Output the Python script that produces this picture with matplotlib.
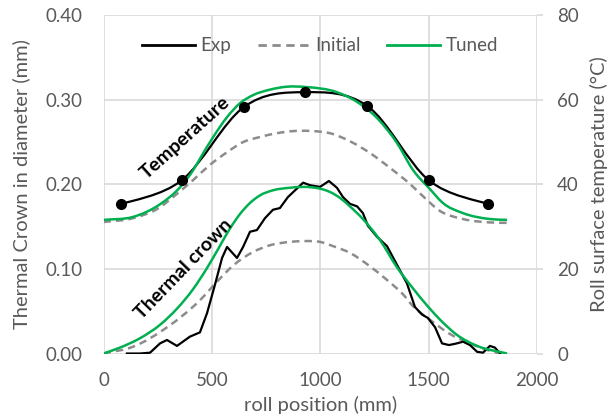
"""
Thermal crown and roll surface temperature vs roll position.
Exp / Initial / Tuned, crown on the left axis, temperature on the right.
Output: out.png
"""

import numpy as np
import matplotlib
matplotlib.use("Agg")
import matplotlib.pyplot as plt
from matplotlib.path import Path
from matplotlib.patches import PathPatch
from matplotlib.lines import Line2D

# ── data ──────────────────────────────────────────────────────────────────────
# measured temperature (°C)
temp_exp_x = [81, 362, 648, 928, 1218, 1500, 1776]
temp_exp_y = [35.3, 41.0, 58.3, 61.8, 58.5, 41.0, 35.3]

# model temperature (°C)
temp_init_x = [0, 136, 261, 321, 413, 491, 570, 644, 722, 800, 874, 967,
               1045, 1137, 1230, 1322, 1414, 1474, 1553, 1659, 1783, 1862]
temp_init_y = [31.1, 32.0, 34.6, 37.0, 41.0, 44.6, 47.6, 50.0, 51.2, 52.1,
               52.6, 52.6, 52.1, 50.2, 47.4, 43.9, 40.1, 37.2, 33.7, 31.8,
               31.0, 30.9]

temp_tuned_x = [0, 136, 261, 353, 413, 459, 505, 570, 630, 690, 768, 847,
                939, 1077, 1170, 1262, 1354, 1428, 1506, 1566, 1659, 1783, 1862]
temp_tuned_y = [31.6, 32.3, 35.3, 39.3, 43.3, 47.3, 51.1, 55.9, 59.2, 61.1,
                62.4, 63.1, 63.0, 61.8, 59.5, 55.7, 49.8, 43.4, 38.9, 35.6,
                33.2, 31.8, 31.6]

# measured thermal crown (mm)
crown_exp_x = [108, 168, 215, 261, 293, 339, 399, 445, 478, 515, 547, 570,
               616, 644, 676, 708, 745, 782, 814, 851, 884, 921, 953, 999,
               1040, 1077, 1105, 1137, 1170, 1197, 1220, 1262, 1308, 1354,
               1400, 1437, 1470, 1497, 1530, 1562, 1594, 1631, 1659, 1691,
               1724, 1751, 1783, 1806, 1830]
crown_exp_y = [0.000, 0.000, 0.001, 0.012, 0.016, 0.009, 0.020, 0.025, 0.048,
               0.082, 0.113, 0.126, 0.113, 0.126, 0.144, 0.146, 0.160, 0.170,
               0.172, 0.185, 0.193, 0.202, 0.199, 0.197, 0.204, 0.196, 0.185,
               0.177, 0.174, 0.166, 0.151, 0.138, 0.127, 0.105, 0.083, 0.055,
               0.046, 0.042, 0.031, 0.012, 0.010, 0.012, 0.014, 0.010, 0.002,
               0.001, 0.009, 0.007, 0.000]

# model thermal crown (mm)
crown_init_x = [0, 136, 293, 445, 524, 598, 690, 768, 861, 935, 999, 1059,
                1137, 1230, 1308, 1382, 1428, 1506, 1599, 1691, 1760, 1830]
crown_init_y = [0.000, 0.008, 0.031, 0.063, 0.085, 0.104, 0.120, 0.128, 0.132,
                0.133, 0.132, 0.127, 0.119, 0.103, 0.087, 0.070, 0.056, 0.040,
                0.023, 0.012, 0.005, 0.000]

crown_tuned_x = [0, 76, 168, 261, 339, 413, 475, 530, 584, 630, 676, 722, 782,
                 861, 921, 1013, 1045, 1091, 1137, 1197, 1276, 1354, 1428,
                 1506, 1553, 1631, 1724, 1862]
crown_tuned_y = [0.000, 0.007, 0.018, 0.034, 0.053, 0.076, 0.100, 0.124, 0.148,
                 0.165, 0.178, 0.187, 0.193, 0.196, 0.197, 0.194, 0.191, 0.184,
                 0.174, 0.159, 0.134, 0.102, 0.077, 0.053, 0.040, 0.022, 0.009,
                 0.000]

x_ticks = [0, 500, 1000, 1500, 2000]
crown_ticks = [0.00, 0.10, 0.20, 0.30, 0.40]
temp_ticks = [0, 20, 40, 60, 80]

BLACK = "black"
GREY = "#8c8c8c"
GREEN = "#00b050"
TXT = "#595959"
GRID = "#d9d9d9"
DASH = (0, (3, 2))


def catmull_path(x, y):
    """Excel-style smoothed line through a few points."""
    pts = np.column_stack([x, y]).astype(float)
    n = len(pts)
    verts, codes = [pts[0]], [Path.MOVETO]
    for i in range(n - 1):
        p0, p1 = pts[max(i - 1, 0)], pts[i]
        p2, p3 = pts[i + 1], pts[min(i + 2, n - 1)]
        verts += [p1 + (p2 - p0) / 6, p2 - (p3 - p1) / 6, p2]
        codes += [Path.CURVE4] * 3
    return Path(verts, codes)


def hermite_path(x, y):
    """Smooth line through x-monotone points (tangents from neighbours)."""
    x = np.asarray(x, float)
    y = np.asarray(y, float)
    m = np.gradient(y, x)
    verts, codes = [(x[0], y[0])], [Path.MOVETO]
    for i in range(len(x) - 1):
        h = (x[i + 1] - x[i]) / 3
        verts += [(x[i] + h, y[i] + m[i] * h),
                  (x[i + 1] - h, y[i + 1] - m[i + 1] * h),
                  (x[i + 1], y[i + 1])]
        codes += [Path.CURVE4] * 3
    return Path(verts, codes)


def add_path(ax, path, **kw):
    ax.add_patch(PathPatch(path, fill=False, capstyle="butt", **kw))


plt.rcParams["font.family"] = ["Lato", "DejaVu Sans"]

fig = plt.figure(figsize=(6.11, 4.16), dpi=100)
ax = fig.add_axes([0.1694, 0.1502, 0.7094, 0.8132])
ax2 = ax.twinx()

# crown (left axis)
ax.plot(crown_exp_x, crown_exp_y, color=BLACK, lw=1.6, zorder=4,
        solid_joinstyle="round")
add_path(ax, hermite_path(crown_init_x, crown_init_y), edgecolor=GREY,
         lw=1.8, linestyle=DASH, zorder=3)
add_path(ax, hermite_path(crown_tuned_x, crown_tuned_y), edgecolor=GREEN,
         lw=1.8, zorder=5)

# temperature (right axis)
add_path(ax2, hermite_path(temp_init_x, temp_init_y), edgecolor=GREY,
         lw=1.8, linestyle=DASH, zorder=3)
add_path(ax2, catmull_path(temp_exp_x, temp_exp_y), edgecolor=BLACK,
         lw=1.6, zorder=4)
ax2.plot(temp_exp_x, temp_exp_y, "o", color=BLACK, ms=7, zorder=6)
add_path(ax2, hermite_path(temp_tuned_x, temp_tuned_y), edgecolor=GREEN,
         lw=1.8, zorder=5)

ax.set_xlim(0, 2000)
ax.set_ylim(0, 0.4)
ax2.set_ylim(0, 80)
ax.set_xticks(x_ticks)
ax.set_yticks(crown_ticks)
ax.set_yticklabels([f"{v:.2f}" for v in crown_ticks])
ax2.set_yticks(temp_ticks)

ax.grid(True, color=GRID, lw=1.2)
ax.set_axisbelow(True)
for a in (ax, ax2):
    for s in a.spines.values():
        s.set_visible(False)
ax.tick_params(axis="y", length=0, labelsize=13.5, labelcolor=TXT, pad=15)
ax.tick_params(axis="x", length=0, labelsize=13.5, labelcolor=TXT, pad=13)
ax2.tick_params(axis="y", length=4.5, width=1.2, color=GRID, labelsize=13.5,
                labelcolor=TXT, pad=10)

ax.set_xlabel("roll position (mm)", fontsize=14.5, color=TXT, labelpad=5)
ax.set_ylabel("Thermal Crown in diameter (mm)", fontsize=14.5, color=TXT,
              labelpad=11)
ax2.set_ylabel("Roll surface temperature (°C)", fontsize=14.5, color=TXT,
               labelpad=8)

ax.text(376, 0.255, "Temperature", rotation=42, ha="center", va="center",
        fontsize=14, fontweight="bold", color=BLACK, zorder=7)
ax.text(370, 0.100, "Thermal crown", rotation=46, ha="center", va="center",
        fontsize=14, fontweight="bold", color=BLACK, zorder=7)

handles = [
    Line2D([], [], color=BLACK, lw=2),
    Line2D([], [], color=GREY, lw=2, linestyle=DASH),
    Line2D([], [], color=GREEN, lw=2),
]
leg = ax2.legend(handles, ["Exp", "Initial", "Tuned"], ncol=3, frameon=False,
                 loc="upper center", bbox_to_anchor=(0.5, 0.985),
                 fontsize=13.5, handlelength=2.8, handletextpad=0.3,
                 columnspacing=1.4)
for t in leg.get_texts():
    t.set_color(TXT)

fig.savefig("out.png", dpi=100)
